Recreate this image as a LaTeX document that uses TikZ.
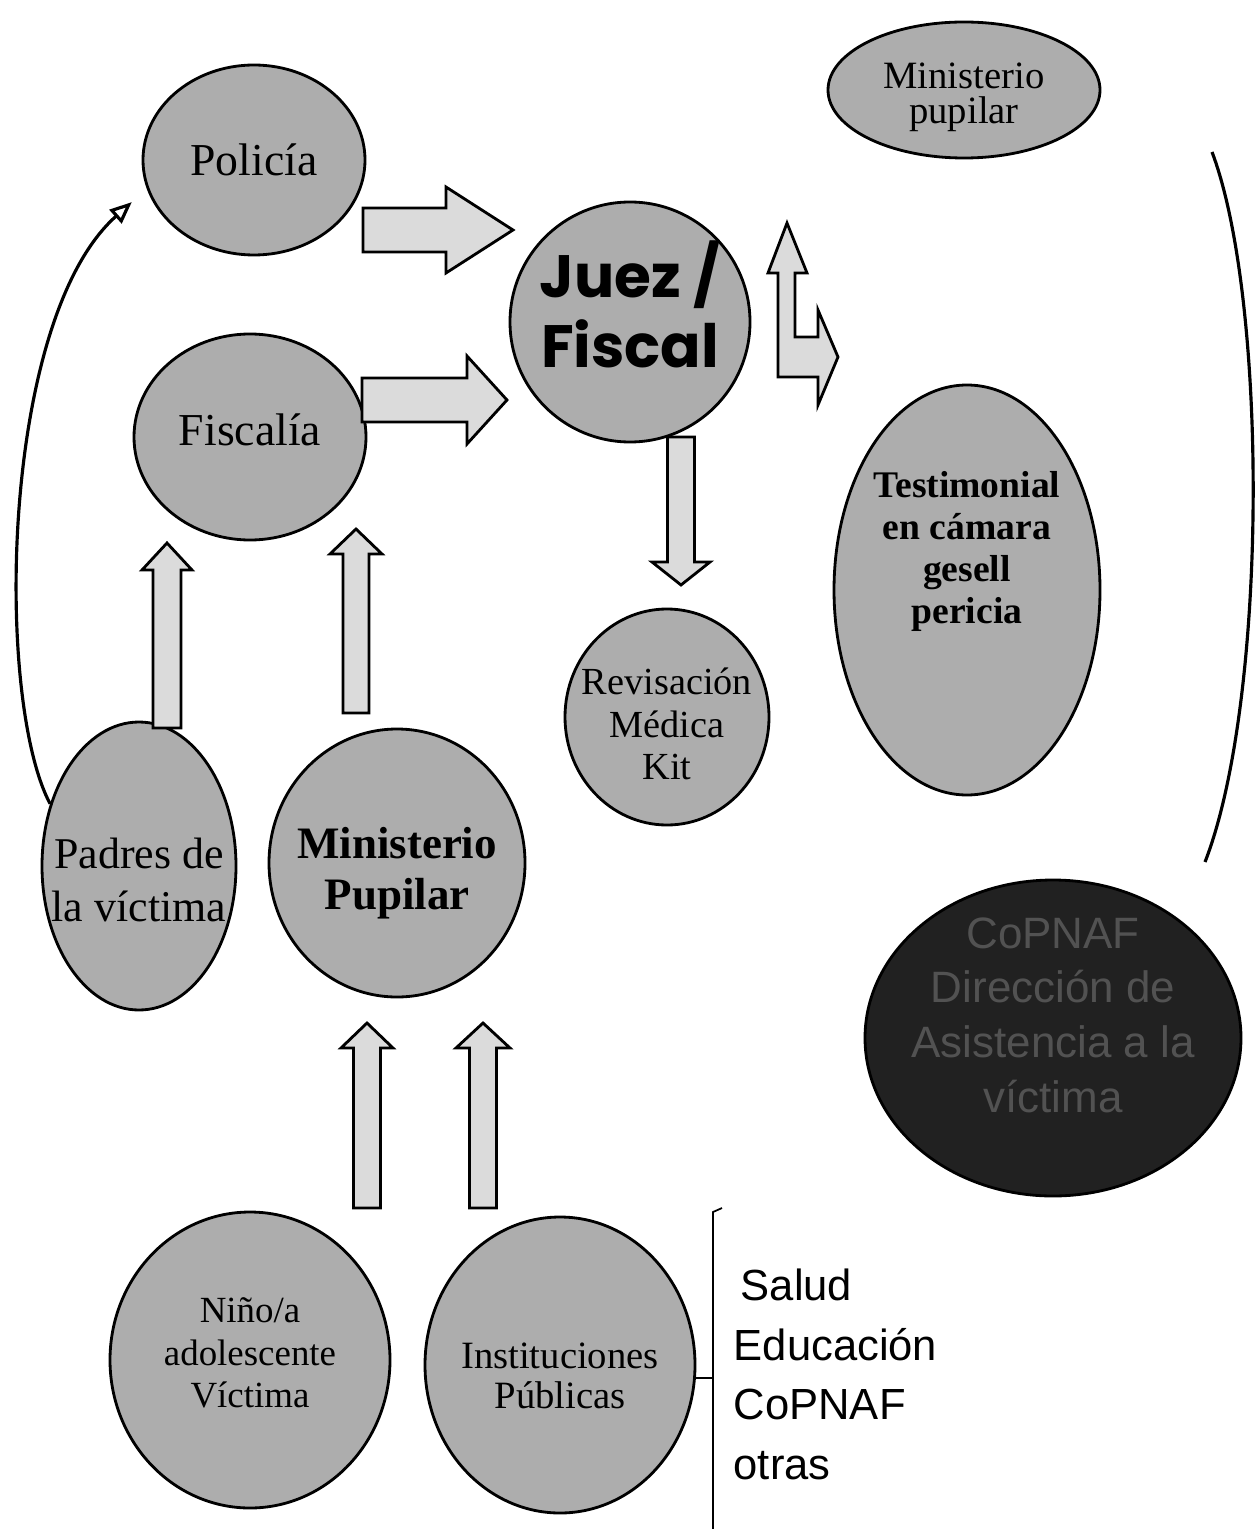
\documentclass[tikz,border=0pt]{standalone}
\usepackage{fontspec}
\setmainfont{Liberation Serif}
\newfontfamily\arialfont{Liberation Sans}
\newfontfamily\juezfont{Poppins}
\usetikzlibrary{shapes.geometric, calc, arrows.meta}
\definecolor{grain}{gray}{0.68}
\definecolor{barrowfill}{gray}{0.86}
\definecolor{darkgrain}{gray}{0.13}
\definecolor{darktext}{gray}{0.32}
\tikzstyle{bubble} = [ellipse, draw, line width=0.8pt, fill=grain, inner sep=0mm]
\tikzstyle{lbl} = [align=center, inner sep=0mm]
\tikzstyle{barrow} = [draw, line width=0.8pt, fill=barrowfill, line join=miter]
\tikzstyle{curvearrow} = [line width=0.9pt, -{Triangle[open, length=2.2mm, width=1.8mm]}]
\tikzstyle{arcline} = [line width=0.9pt]
\tikzstyle{brace} = [line width=0.5pt]
% flecha gruesa: desde, hasta, medio ancho, medio ancho punta, largo punta
\newcommand{\blockarrow}[5]{%
  \path ($(#2)!#5!(#1)$) coordinate (bh);
  \draw[barrow] ($(#1)!#3!90:(#2)$) -- ($(bh)!#3!90:(#2)$) -- ($(bh)!#4!90:(#2)$) -- (#2)
    -- ($(bh)!#4!-90:(#2)$) -- ($(bh)!#3!-90:(#2)$) -- ($(#1)!#3!-90:(#2)$) -- cycle;
}

\begin{document}
\begin{tikzpicture}[x=0.1mm, y=-0.1mm]
    \useasboundingbox (0,0) rectangle (1256,1529);

    % circulos
    \node[bubble, minimum width=22.2mm, minimum height=19mm,
        label={[lbl, font=\fontsize{13}{15}\selectfont]center:Policía}] (policia) at (254,160) {};
    \node[bubble, minimum width=23.2mm, minimum height=20.6mm,
        label={[lbl, yshift=2pt, font=\fontsize{13}{15}\selectfont]center:Fiscalía}] (fiscalia) at (250,437) {};
    \node[bubble, minimum width=24mm, minimum height=24mm,
        label={[lbl, yshift=5pt, font=\juezfont\bfseries\fontsize{17}{20}\selectfont]center:Juez /\\Fiscal}] (juez) at (630,322) {};
    \node[bubble, minimum width=27.2mm, minimum height=13.6mm,
        label={[lbl, yshift=-2pt, font=\fontsize{11}{10}\selectfont]center:Ministerio\\pupilar}] (minpupilar) at (964,90) {};
    \node[bubble, minimum width=26.6mm, minimum height=41mm,
        label={[lbl, yshift=11pt, font=\bfseries\fontsize{10.7}{12}\selectfont]center:Testimonial\\en cámara\\gesell\\pericia}] (testimonial) at (967,590) {};
    \node[bubble, minimum width=20.4mm, minimum height=21.6mm,
        label={[lbl, yshift=-2pt, font=\fontsize{10.9}{12}\selectfont]center:Revisación\\Médica\\Kit}] (revisacion) at (667,717) {};
    \node[bubble, minimum width=19.4mm, minimum height=28.8mm,
        label={[lbl, yshift=-4pt, font=\fontsize{12.5}{15}\selectfont]center:Padres de\\la víctima}] (padres) at (139,866) {};
    \node[bubble, minimum width=25.6mm, minimum height=26.8mm,
        label={[lbl, yshift=-3pt, font=\bfseries\fontsize{12.8}{14.5}\selectfont]center:Ministerio\\Pupilar}] (ministerio) at (397,863) {};
    \node[bubble, fill=darkgrain, minimum width=37.6mm, minimum height=31.6mm,
        label={[lbl, yshift=6.5pt, text=darktext, font=\arialfont\fontsize{12.5}{15.6}\selectfont]center:CoPNAF\\Dirección de\\Asistencia a la\\víctima}] (copnaf) at (1053,1038) {};
    \node[bubble, minimum width=28mm, minimum height=29.6mm,
        label={[lbl, yshift=2pt, font=\fontsize{10.5}{12}\selectfont]center:Niño/a\\adolescente\\Víctima}] (nino) at (250,1360) {};
    \node[bubble, minimum width=27mm, minimum height=29.6mm,
        label={[lbl, yshift=-3pt, font=\fontsize{11}{11.4}\selectfont]center:Instituciones\\Públicas}] (instituciones) at (560,1365) {};

    \node[lbl, anchor=north west, align=left, font=\arialfont\fontsize{12.4}{17}\selectfont] (lista) at (733,1268)
        {\hspace{2pt}Salud\\Educación\\CoPNAF\\otras};

    % flechas gruesas
    \coordinate (pj1) at (363,230); \coordinate (pj2) at (513,230);
    \coordinate (fj1) at (362,400); \coordinate (fj2) at (507,400);
    \coordinate (pf1) at (167,728); \coordinate (pf2) at (167,543);
    \coordinate (mf1) at (356,713); \coordinate (mf2) at (356,529);
    \coordinate (nm1) at (367,1208); \coordinate (nm2) at (367,1023);
    \coordinate (im1) at (483,1208); \coordinate (im2) at (483,1023);
    \coordinate (jr1) at (681,437); \coordinate (jr2) at (681,585);
    \foreach \a/\w/\h/\l in {pj/2.2mm/4.3mm/6.7mm, fj/2.2mm/4.4mm/4mm, pf/1.4mm/2.5mm/2.7mm,
        mf/1.3mm/2.6mm/2.5mm, nm/1.35mm/2.6mm/2.5mm, im/1.35mm/2.7mm/2.5mm, jr/1.35mm/2.9mm/2.3mm}
    {\blockarrow{\a1}{\a2}{\w}{\h}{\l}}

    % flecha en L
    \draw[barrow] (787,223) -- (807,273) -- (795,273) -- (795,337) -- (818,337) -- (818,310)
        -- (838,357) -- (818,405) -- (818,377) -- (778,377) -- (778,273) -- (768,273) -- cycle;

    % curvas
    \draw[curvearrow, shorten >=2mm] (padres.145) .. controls (-5,700) and (0,320) .. (policia.195);
    \coordinate (arcup) at (1212,152); \coordinate (arcdown) at (1205,862);
    \draw[arcline] (arcup) .. controls (1268,300) and (1268,700) .. (arcdown);

    % llave
    \coordinate (bracehook) at (722,1208); \coordinate (bracetop) at (713,1212);
    \coordinate (bracebot) at (713,1529); \coordinate (bracemid) at (713,1378);
    \draw[brace] (bracehook) -- (bracetop) -- (bracebot);
    \draw[brace] (instituciones.east |- bracemid) -- (bracemid);
\end{tikzpicture}
\end{document}
